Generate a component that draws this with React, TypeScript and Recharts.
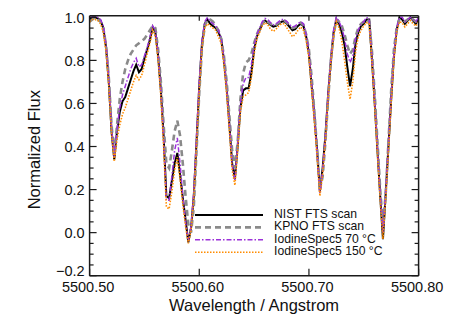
import { LineChart, Line, XAxis, YAxis } from "recharts";

// spectra sampled every 0.0025 Angstrom from 5500.500 to 5500.800
const WAVE_START = 5500.5;
const WAVE_STEP = 0.0025;

const NIST = [
  0.99, 1.0, 1.0, 0.995, 0.985, 0.95, 0.86, 0.7, 0.47, 0.34,
  0.47, 0.56, 0.61, 0.63, 0.67, 0.71, 0.75, 0.78, 0.745, 0.76,
  0.81, 0.85, 0.895, 0.955, 0.93, 0.82, 0.66, 0.45, 0.17, 0.16,
  0.24, 0.32, 0.37, 0.27, 0.16, 0.06, -0.045, 0.02, 0.17, 0.42,
  0.68, 0.88, 0.97, 0.99, 0.97, 0.96, 0.95, 0.93, 0.9, 0.8,
  0.67, 0.5, 0.32, 0.25, 0.4, 0.58, 0.66, 0.67, 0.67, 0.74,
  0.85, 0.91, 0.94, 0.97, 0.985, 0.975, 0.965, 0.957, 0.96, 0.97,
  0.98, 0.982, 0.97, 0.955, 0.94, 0.945, 0.96, 0.97, 0.96, 0.91,
  0.83, 0.68, 0.54, 0.38, 0.19, 0.3, 0.45, 0.64, 0.8, 0.93,
  0.99, 0.97, 0.93, 0.87, 0.77, 0.68, 0.76, 0.88, 0.93, 0.96,
  0.97, 0.99, 0.99, 0.8, 0.6, 0.38, 0.17, -0.03, 0.18, 0.4,
  0.62, 0.82, 0.94, 1.0, 0.99, 0.97, 0.985, 1.0, 0.985, 0.97, 0.99,
];

const KPNO = [
  0.98, 0.99, 1.0, 0.99, 0.98, 0.95, 0.87, 0.72, 0.5, 0.36,
  0.5, 0.62, 0.7, 0.76, 0.8, 0.83, 0.85, 0.87, 0.88, 0.89,
  0.9, 0.92, 0.94, 0.96, 0.95, 0.85, 0.7, 0.5, 0.32, 0.3,
  0.38, 0.47, 0.52, 0.45, 0.32, 0.17, 0.04, 0.0, 0.12, 0.38,
  0.65, 0.86, 0.96, 0.99, 0.99, 0.98, 0.96, 0.94, 0.9, 0.82,
  0.7, 0.54, 0.38, 0.3, 0.42, 0.62, 0.74, 0.79, 0.8, 0.83,
  0.88, 0.92, 0.95, 0.97, 0.99, 0.98, 0.97, 0.96, 0.965, 0.975,
  0.985, 0.985, 0.975, 0.96, 0.95, 0.955, 0.965, 0.975, 0.965, 0.92,
  0.85, 0.72, 0.56, 0.38, 0.2, 0.26, 0.42, 0.62, 0.8, 0.92,
  0.99, 0.98, 0.96, 0.92, 0.87, 0.83, 0.85, 0.91, 0.95, 0.97,
  0.98, 0.99, 0.98, 0.84, 0.64, 0.42, 0.2, 0.03, 0.18, 0.42,
  0.66, 0.85, 0.95, 0.99, 0.99, 0.98, 0.99, 1.0, 0.99, 0.98, 0.99,
];

const SPEC_70C = [
  1.0, 1.0, 1.0, 1.0, 0.99, 0.96, 0.87, 0.72, 0.49, 0.35,
  0.48, 0.58, 0.64, 0.68, 0.72, 0.76, 0.79, 0.81, 0.77, 0.78,
  0.82, 0.86, 0.91, 0.96, 0.94, 0.83, 0.66, 0.44, 0.15, 0.15,
  0.26, 0.38, 0.44, 0.32, 0.17, 0.05, -0.04, 0.03, 0.19, 0.45,
  0.7, 0.89, 0.98, 1.0, 0.98, 0.97, 0.96, 0.94, 0.9, 0.81,
  0.67, 0.5, 0.32, 0.24, 0.41, 0.6, 0.69, 0.72, 0.72, 0.78,
  0.87, 0.92, 0.95, 0.98, 0.995, 0.99, 0.975, 0.965, 0.97, 0.98,
  0.99, 0.99, 0.98, 0.965, 0.955, 0.96, 0.97, 0.98, 0.97, 0.92,
  0.84, 0.69, 0.54, 0.37, 0.18, 0.29, 0.45, 0.64, 0.81, 0.94,
  1.0, 0.98, 0.95, 0.9, 0.83, 0.79, 0.82, 0.9, 0.94, 0.97,
  0.98, 1.0, 0.99, 0.81, 0.61, 0.39, 0.18, 0.0, 0.19, 0.41,
  0.63, 0.83, 0.95, 1.0, 1.0, 0.98, 0.99, 1.0, 0.99, 0.98, 1.0,
];

const SPEC_150C = [
  0.98, 0.99, 0.99, 0.985, 0.97, 0.93, 0.84, 0.68, 0.46, 0.33,
  0.43, 0.5, 0.55, 0.58, 0.62, 0.66, 0.7, 0.73, 0.71, 0.73,
  0.78, 0.83, 0.88, 0.94, 0.91, 0.8, 0.63, 0.4, 0.12, 0.11,
  0.19, 0.29, 0.35, 0.25, 0.13, 0.03, -0.05, 0.01, 0.16, 0.41,
  0.66, 0.86, 0.95, 0.97, 0.96, 0.95, 0.94, 0.91, 0.88, 0.78,
  0.64, 0.47, 0.29, 0.22, 0.38, 0.56, 0.63, 0.64, 0.65, 0.72,
  0.83, 0.9, 0.93, 0.96, 0.975, 0.965, 0.945, 0.935, 0.945, 0.96,
  0.97, 0.97, 0.95, 0.93, 0.91, 0.92, 0.94, 0.955, 0.94, 0.89,
  0.81, 0.66, 0.51, 0.35, 0.17, 0.27, 0.43, 0.62, 0.79, 0.91,
  0.98, 0.95, 0.89, 0.8, 0.7, 0.62, 0.7, 0.84, 0.91, 0.94,
  0.96, 0.975, 0.97, 0.79, 0.58, 0.36, 0.15, -0.03, 0.16, 0.38,
  0.6, 0.8, 0.93, 0.98, 0.975, 0.955, 0.97, 0.985, 0.97, 0.96, 0.98,
];

const X_TICKS = [5500.5, 5500.6, 5500.7, 5500.8];
const X_TOP_TICKS = [5500.6, 5500.7];
const Y_TICKS = [
  -0.2, -0.15, -0.1, -0.05, 0, 0.05, 0.1, 0.15, 0.2, 0.25, 0.3, 0.35,
  0.4, 0.45, 0.5, 0.55, 0.6, 0.65, 0.7, 0.75, 0.8, 0.85, 0.9, 0.95, 1.0,
];

const SERIES = [
  { key: "nist", name: "NIST FTS scan", values: NIST, color: "#000000", width: 2, dash: undefined },
  { key: "kpno", name: "KPNO FTS scan", values: KPNO, color: "#8a8a8a", width: 2.6, dash: "6 4" },
  { key: "c70", name: "IodineSpec5 70 °C", values: SPEC_70C, color: "#9b30d9", width: 1.5, dash: "5 2 1.5 2" },
  { key: "c150", name: "IodineSpec5 150 °C", values: SPEC_150C, color: "#ff8c00", width: 1.6, dash: "1.5 1.5" },
];

const data = NIST.map((_, i) => {
  const row: any = { w: WAVE_START + i * WAVE_STEP };
  SERIES.forEach((s) => (row[s.key] = s.values[i]));
  return row;
});

const FONT = "'Liberation Sans', Arial, Helvetica, sans-serif";
const AXIS = "#1a1a1a";
const isMajor = (v: number) => Math.abs(v * 5 - Math.round(v * 5)) < 1e-6;
const fmtY = (v: number) =>
  v < -1e-9 ? "\u2212" + Math.abs(v).toFixed(1) : Math.abs(v).toFixed(1);

const LeftTick = ({ x, y, payload }: any) => {
  const v = payload.value;
  const major = isMajor(v);
  const ax = x + 5;
  // bottom label sits a little above the corner, as in the original
  const ly = v < -0.19 ? y - 5 : y;
  return (
    <g>
      <line x1={ax} x2={ax + (major ? 7 : 4)} y1={y} y2={y} stroke={AXIS} strokeWidth={1.2} />
      {major && (
        <text x={x} y={ly} dy="0.36em" textAnchor="end" fontSize={14.5} fill="#111" fontFamily={FONT}>
          {fmtY(v)}
        </text>
      )}
    </g>
  );
};

const RightTick = ({ x, y, payload }: any) => {
  const major = isMajor(payload.value);
  return <line x1={x} x2={x - (major ? 7 : 4)} y1={y} y2={y} stroke={AXIS} strokeWidth={1.2} />;
};

const BottomTick = ({ x, y, payload }: any) => (
  <g>
    <line x1={x} x2={x} y1={y} y2={y - 7} stroke={AXIS} strokeWidth={1.2} />
    <text x={x - 1.5} y={y + 16.5} textAnchor="middle" fontSize={14.5} fill="#111" fontFamily={FONT}>
      {payload.value.toFixed(2)}
    </text>
  </g>
);

const TopTick = ({ x, y }: any) => (
  <line x1={x} x2={x} y1={y} y2={y + 5} stroke={AXIS} strokeWidth={1.2} />
);

const XTitle = ({ viewBox }: any) => (
  <text
    x={viewBox.x + viewBox.width / 2}
    y={viewBox.y + 35}
    textAnchor="middle"
    fontSize={16.5}
    fill="#111"
    fontFamily={FONT}
  >
    Wavelength / Angstrom
  </text>
);

const YTitle = ({ viewBox }: any) => {
  const cx = viewBox.x + viewBox.width - 50;
  const cy = viewBox.y + viewBox.height / 2 + 4;
  return (
    <text
      x={cx}
      y={cy}
      textAnchor="middle"
      fontSize={16.5}
      fill="#111"
      fontFamily={FONT}
      transform={`rotate(-90, ${cx}, ${cy})`}
    >
      Normalized Flux
    </text>
  );
};

const LegendBox = () => (
  <svg
    width={450}
    height={325}
    style={{ position: "absolute", left: 0, top: 0, pointerEvents: "none" }}
  >
    {SERIES.map((s, i) => {
      const y = 215 + i * 12.4;
      return (
        <g key={s.key}>
          <line
            x1={195}
            x2={263}
            y1={y}
            y2={y}
            stroke={s.color}
            strokeWidth={s.width}
            strokeDasharray={s.dash}
          />
          <text x={274} y={y + 3} fontSize={12.2} fill="#111" fontFamily={FONT}>
            {s.name}
          </text>
        </g>
      );
    })}
  </svg>
);

export default function App() {
  return (
    <div style={{ position: "absolute", left: 0, top: 0, width: 450, height: 325, background: "#fff" }}>
      <LineChart
        width={450}
        height={325}
        data={data}
        margin={{ top: 14.7, right: 30.4, bottom: 48.3, left: 88.6 }}
      >
        <XAxis
          dataKey="w"
          type="number"
          domain={[5500.5, 5500.8]}
          allowDataOverflow
          ticks={X_TICKS}
          interval={0}
          height={1}
          tickSize={0}
          tickMargin={0}
          tickLine={false}
          axisLine={{ stroke: AXIS, strokeWidth: 1.5 }}
          tick={<BottomTick />}
          label={<XTitle />}
        />
        <XAxis
          xAxisId="top"
          orientation="top"
          dataKey="w"
          type="number"
          domain={[5500.5, 5500.8]}
          allowDataOverflow
          ticks={X_TOP_TICKS}
          interval={0}
          height={1}
          tickSize={0}
          tickMargin={0}
          tickLine={false}
          axisLine={{ stroke: AXIS, strokeWidth: 1.5 }}
          tick={<TopTick />}
        />
        <YAxis
          type="number"
          domain={[-0.2, 1.0075]}
          allowDataOverflow
          ticks={Y_TICKS}
          interval={0}
          width={1}
          tickSize={0}
          tickMargin={5}
          tickLine={false}
          axisLine={{ stroke: AXIS, strokeWidth: 1.5 }}
          tick={<LeftTick />}
          label={<YTitle />}
        />
        <YAxis
          yAxisId="right"
          orientation="right"
          type="number"
          domain={[-0.2, 1.0075]}
          allowDataOverflow
          ticks={Y_TICKS}
          interval={0}
          width={1}
          tickSize={0}
          tickMargin={0}
          tickLine={false}
          axisLine={{ stroke: AXIS, strokeWidth: 1.5 }}
          tick={<RightTick />}
        />
        {SERIES.map((s) => (
          <Line
            key={s.key}
            type="linear"
            dataKey={s.key}
            stroke={s.color}
            strokeWidth={s.width}
            strokeDasharray={s.dash}
            dot={false}
            activeDot={false}
            isAnimationActive={false}
          />
        ))}
      </LineChart>
      <LegendBox />
    </div>
  );
}
